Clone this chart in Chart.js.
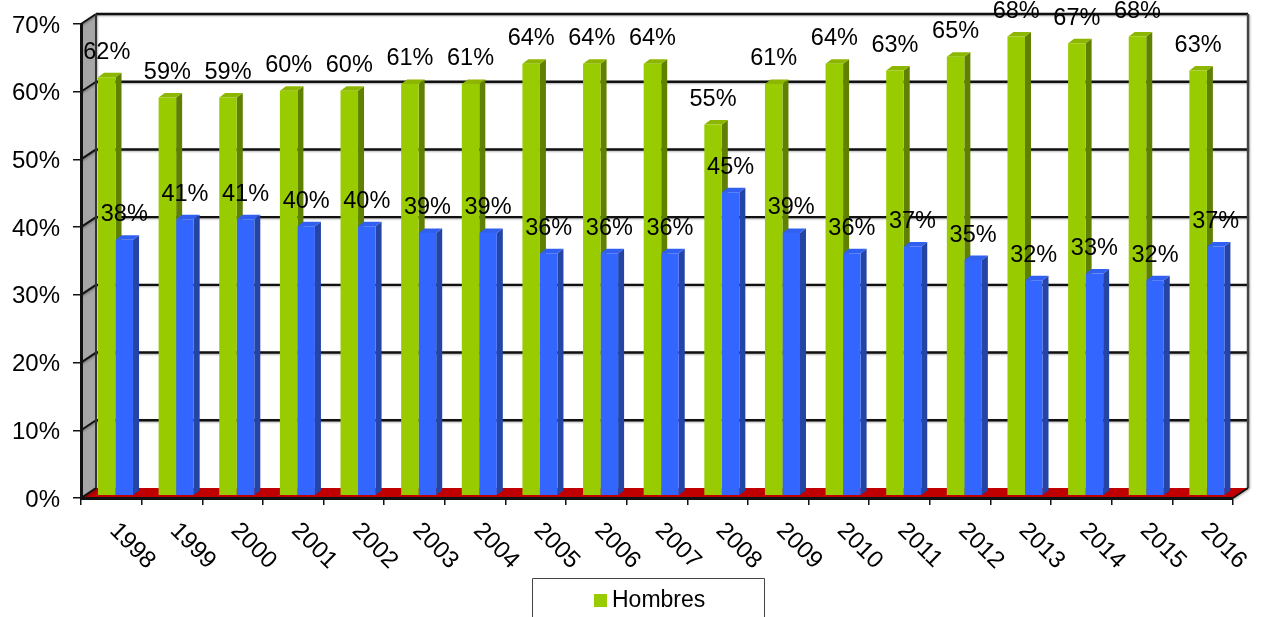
<!DOCTYPE html>
<html>
<head>
<meta charset="utf-8">
<style>html,body{margin:0;padding:0;background:#fff;overflow:hidden}canvas{display:block}</style>
<script src="https://cdn.jsdelivr.net/npm/chart.js@4"></script>
</head>
<body>
<canvas id="c" width="1267" height="617"></canvas>
<script>
const years = ['1998','1999','2000','2001','2002','2003','2004','2005','2006','2007','2008','2009','2010','2011','2012','2013','2014','2015','2016'];
const hombres = [62,59,59,60,60,61,61,64,64,64,55,61,64,63,65,68,67,68,63];
const mujeres = [38,41,41,40,40,39,39,36,36,36,45,39,36,37,35,32,33,32,37];
const FONT = '"Liberation Sans", Arial, sans-serif';
const WALL = {dx:15, dy:-10};
const BAR = {dx:4.2, dy:-1, depthX:6, depthY:-4.5};
const sides = [{side:'#5f8000', top:'#8db600'},{side:'#2444a6', top:'#3160f0'}];

function line(ctx,x1,y1,x2,y2,color,w){
  ctx.strokeStyle=color;ctx.lineWidth=w;ctx.beginPath();ctx.moveTo(x1,y1);ctx.lineTo(x2,y2);ctx.stroke();
}
function poly(ctx,pts,fill){
  ctx.fillStyle=fill;ctx.beginPath();pts.forEach((p,i)=>i?ctx.lineTo(p[0],p[1]):ctx.moveTo(p[0],p[1]));ctx.closePath();ctx.fill();
}
const scene = {
  id:'scene',
  beforeDraw(chart){
    const {ctx,chartArea:a,scales:{y}}=chart, dx=WALL.dx, dy=WALL.dy;
    ctx.save();
    poly(ctx,[[a.left,a.top],[a.left+dx,a.top+dy],[a.left+dx,a.bottom+dy],[a.left,a.bottom]],'#a6a6a6');
    poly(ctx,[[a.left,a.bottom],[a.left+dx,a.bottom+dy],[a.right+dx,a.bottom+dy],[a.right,a.bottom]],'#c00000');
    ctx.shadowColor='rgba(0,0,0,0.3)';ctx.shadowBlur=2;ctx.shadowOffsetX=1;ctx.shadowOffsetY=1;
    y.ticks.forEach(t=>{
      const py=y.getPixelForValue(t.value);
      if(t.value>0) line(ctx,a.left+dx,py+dy,a.right+dx,py+dy,'#111',2.4);
      line(ctx,a.left,py,a.left+dx,py+dy,'#111',2);
    });
    line(ctx,a.left+dx,a.top+dy,a.left+dx,a.bottom+dy,'#333',2);
    line(ctx,a.right+dx,a.top+dy,a.right+dx,a.bottom+dy,'#444',2.4);
    line(ctx,a.right,a.bottom,a.right+dx,a.bottom+dy,'#111',2);
    ctx.restore();
  },
  beforeDatasetsDraw(chart){
    const ctx=chart.ctx;
    ctx.save();
    ctx.translate(BAR.dx,BAR.dy);
    chart.data.datasets.forEach((ds,i)=>{
      chart.getDatasetMeta(i).data.forEach(el=>{
        const p=el.getProps(['x','y','base','width'],true);
        const l=p.x-p.width/2,r=p.x+p.width/2,dx=BAR.depthX,dy=BAR.depthY;
        poly(ctx,[[r,p.y],[r+dx,p.y+dy],[r+dx,p.base+dy],[r,p.base]],sides[i].side);
        poly(ctx,[[l,p.y],[l+dx,p.y+dy],[r+dx,p.y+dy],[r,p.y]],sides[i].top);
      });
    });
  },
  afterDatasetsDraw(chart){
    const ctx=chart.ctx;
    ctx.restore();
    ctx.save();
    ctx.fillStyle='#000';ctx.font='23.5px '+FONT;ctx.textAlign='center';ctx.textBaseline='alphabetic';
    chart.data.datasets.forEach((ds,i)=>{
      chart.getDatasetMeta(i).data.forEach((el,k)=>{
        const p=el.getProps(['x','y'],true);
        ctx.fillText(ds.data[k]+'%',p.x+BAR.dx,p.y-19.5);
      });
    });
    ctx.restore();
  },
  afterDraw(chart){
    const ctx=chart.ctx, ds=chart.data.datasets[0];
    ctx.save();
    ctx.strokeStyle='#444';ctx.lineWidth=1;
    ctx.beginPath();ctx.moveTo(532.5,620);ctx.lineTo(532.5,578.5);ctx.lineTo(764.5,578.5);ctx.lineTo(764.5,620);ctx.stroke();
    ctx.fillStyle=ds.backgroundColor;ctx.fillRect(594,594,13,13);
    ctx.fillStyle='#000';ctx.font='23px '+FONT;ctx.textAlign='left';ctx.textBaseline='alphabetic';
    ctx.fillText(ds.label,612,607);
    ctx.restore();
  }
};
new Chart(document.getElementById('c'),{
  type:'bar',
  data:{labels:years,datasets:[
    {label:'Hombres',data:hombres,backgroundColor:'#99cc00',clip:false,base:0.3,categoryPercentage:0.578,barPercentage:1},
    {label:'Mujeres',data:mujeres,backgroundColor:'#3366ff',clip:false,base:0.3,categoryPercentage:0.578,barPercentage:1}
  ]},
  options:{
    responsive:false,animation:false,
    layout:{padding:{top:24,right:34,left:0,bottom:0}},
    plugins:{legend:{display:false},tooltip:{enabled:false},title:{display:false}},
    scales:{
      x:{
        grid:{drawOnChartArea:false,drawTicks:true,tickLength:7,color:'#111',lineWidth:1.5},
        border:{display:true,color:'#111',width:3},
        ticks:{color:'#000',font:{family:FONT,size:24},minRotation:-45,maxRotation:-45,autoSkip:false,padding:12,labelOffset:2},
        beforeUpdate(s){s._getXAxisLabelAlignment=()=>'left';},
        afterFit(s){s.height=119;s.paddingLeft=0;s.paddingRight=0;}
      },
      y:{
        min:0,max:70,
        grid:{drawOnChartArea:false,drawTicks:true,tickLength:8,color:'#111',lineWidth:1.5},
        border:{display:true,color:'#111',width:3},
        ticks:{color:'#000',font:{family:FONT,size:24},stepSize:10,padding:13,labelOffset:2,callback:v=>v+'%'},
        afterFit(s){s.width=81;s.paddingTop=0;s.paddingBottom=0;}
      }
    }
  },
  plugins:[scene]
});
</script>
</body>
</html>
